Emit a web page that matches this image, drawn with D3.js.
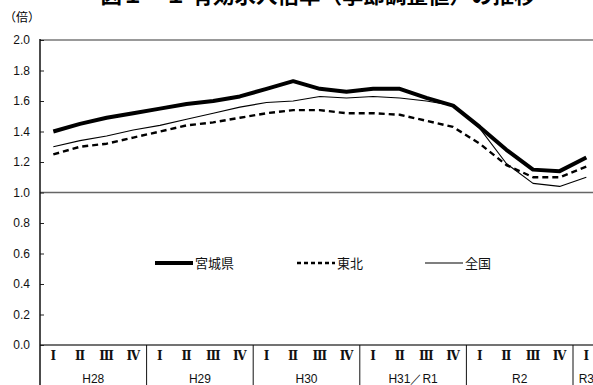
<!DOCTYPE html>
<html>
<head>
<meta charset="utf-8">
<script src="https://cdn.jsdelivr.net/npm/d3@7"></script>
<style>
  html, body { margin: 0; padding: 0; background: #fff; }
  svg { display: block; }
</style>
</head>
<body>
<svg id="chart" width="593" height="385"></svg>
<script>
// 有効求人倍率（季節調整値）— 四半期
const quarters = ["Ⅰ","Ⅱ","Ⅲ","Ⅳ","Ⅰ","Ⅱ","Ⅲ","Ⅳ","Ⅰ","Ⅱ","Ⅲ","Ⅳ","Ⅰ","Ⅱ","Ⅲ","Ⅳ","Ⅰ","Ⅱ","Ⅲ","Ⅳ","Ⅰ"];
const years = [
  { label: "H28", n: 4 },
  { label: "H29", n: 4 },
  { label: "H30", n: 4 },
  { label: "H31／R1", n: 4 },
  { label: "R2", n: 4 },
  { label: "R3", n: 1 }
];
const miyagi = [1.40,1.45,1.49,1.52,1.55,1.58,1.60,1.63,1.68,1.73,1.68,1.66,1.68,1.68,1.62,1.57,1.43,1.28,1.15,1.14,1.23];
const tohoku = [1.25,1.30,1.32,1.36,1.40,1.44,1.46,1.49,1.52,1.54,1.54,1.52,1.52,1.51,1.47,1.43,1.32,1.18,1.10,1.10,1.17];
const zenkoku = [1.30,1.34,1.37,1.41,1.44,1.48,1.52,1.56,1.59,1.60,1.63,1.62,1.63,1.62,1.60,1.57,1.42,1.19,1.06,1.04,1.10];
const yTicks = [0,0.2,0.4,0.6,0.8,1.0,1.2,1.4,1.6,1.8,2.0];

(function draw() {
  const svg = d3.select("#chart");
  const mLeft = 40, mTop = 40, mBottom = 345, catBottom = 385;
  const qw = 26.65;
  const n = quarters.length;

  const x = d3.scaleBand().domain(d3.range(n)).range([mLeft, mLeft + n * qw]).padding(0);
  const y = d3.scaleLinear().domain([0, 2]).range([mBottom, mTop]);

  // title (sits at the very top edge)
  svg.append("text")
    .attr("x", 318).attr("y", 3)
    .attr("text-anchor", "middle")
    .attr("font-family", "'Noto Sans CJK JP', sans-serif")
    .attr("font-weight", "bold")
    .attr("font-size", 21.5)
    .text("図１－１ 有効求人倍率（季節調整値）の推移");

  // unit label
  svg.append("text")
    .attr("x", 4).attr("y", 22)
    .attr("font-family", "'Noto Sans CJK JP', sans-serif")
    .attr("font-size", 12)
    .text("（倍）");

  // frame lines
  svg.append("line").attr("x1", mLeft).attr("x2", 593).attr("y1", y(2)).attr("y2", y(2))
    .attr("stroke", "#777").attr("stroke-width", 1.5);
  svg.append("line").attr("x1", mLeft).attr("x2", 593).attr("y1", y(1)).attr("y2", y(1))
    .attr("stroke", "#666").attr("stroke-width", 1.3);
  svg.append("line").attr("x1", mLeft).attr("x2", 593).attr("y1", y(0)).attr("y2", y(0))
    .attr("stroke", "#444").attr("stroke-width", 1.3);

  // y axis
  const yAxis = d3.axisLeft(y).tickValues(yTicks).tickFormat(d3.format(".1f")).tickSizeInner(-4).tickSizeOuter(0).tickPadding(10);
  const gy = svg.append("g").attr("transform", `translate(${mLeft},0)`).call(yAxis);
  gy.select(".domain").remove();
  gy.selectAll(".tick line").attr("stroke", "#222");
  gy.selectAll(".tick text")
    .attr("font-family", "'Liberation Sans', Arial, sans-serif")
    .attr("font-size", 12).attr("fill", "#111");
  svg.append("line").attr("x1", mLeft).attr("x2", mLeft).attr("y1", mTop - 1).attr("y2", catBottom)
    .attr("stroke", "#111").attr("stroke-width", 1.5);

  // quarter labels
  svg.append("g").selectAll("text").data(quarters).join("text")
    .attr("x", (d, i) => x(i) + x.bandwidth() / 2)
    .attr("y", 360)
    .attr("text-anchor", "middle")
    .attr("font-family", "'DejaVu Serif', serif")
    .attr("font-weight", "bold")
    .attr("font-size", 12)
    .attr("fill", "#111")
    .text(d => d);

  // year groups
  let acc = 0;
  const groups = years.map(g => { const s = acc; acc += g.n; return { label: g.label, start: s, end: acc }; });
  svg.append("g").selectAll("line").data(groups.slice(0, -1)).join("line")
    .attr("x1", d => x(d.end)).attr("x2", d => x(d.end))
    .attr("y1", mBottom).attr("y2", catBottom)
    .attr("stroke", "#111").attr("stroke-width", 1);
  svg.append("g").selectAll("text").data(groups).join("text")
    .attr("x", d => x(d.start) + (d.end - d.start) * qw / 2)
    .attr("y", 383)
    .attr("text-anchor", "middle")
    .attr("font-family", "'Liberation Sans', Arial, sans-serif")
    .attr("font-size", 12)
    .attr("fill", "#111")
    .text(d => d.label);

  // series
  const line = d3.line().x((d, i) => x(i) + x.bandwidth() / 2).y(d => y(d));
  const series = [
    { name: "宮城県", values: miyagi, width: 4, dash: null },
    { name: "東北", values: tohoku, width: 2.4, dash: "6,4" },
    { name: "全国", values: zenkoku, width: 1.1, dash: null }
  ];
  svg.append("g").selectAll("path").data(series.slice().reverse()).join("path")
    .attr("d", d => line(d.values))
    .attr("fill", "none")
    .attr("stroke", "#000")
    .attr("stroke-width", d => d.width)
    .attr("stroke-dasharray", d => d.dash)
    .attr("stroke-linejoin", "round");

  // legend
  const legendX = [155, 297, 425];
  const lg = svg.append("g").selectAll("g").data(series).join("g")
    .attr("transform", (d, i) => `translate(${legendX[i]},263)`);
  lg.append("line").attr("x1", 0).attr("x2", 38).attr("y1", 0).attr("y2", 0)
    .attr("stroke", "#000")
    .attr("stroke-width", d => d.width)
    .attr("stroke-dasharray", d => d.dash ? "4,3" : null);
  lg.append("text").attr("x", 40).attr("y", 5)
    .attr("font-family", "'Noto Sans CJK JP', sans-serif")
    .attr("font-size", 13)
    .attr("fill", "#111")
    .text(d => d.name);
})();
</script>
</body>
</html>
